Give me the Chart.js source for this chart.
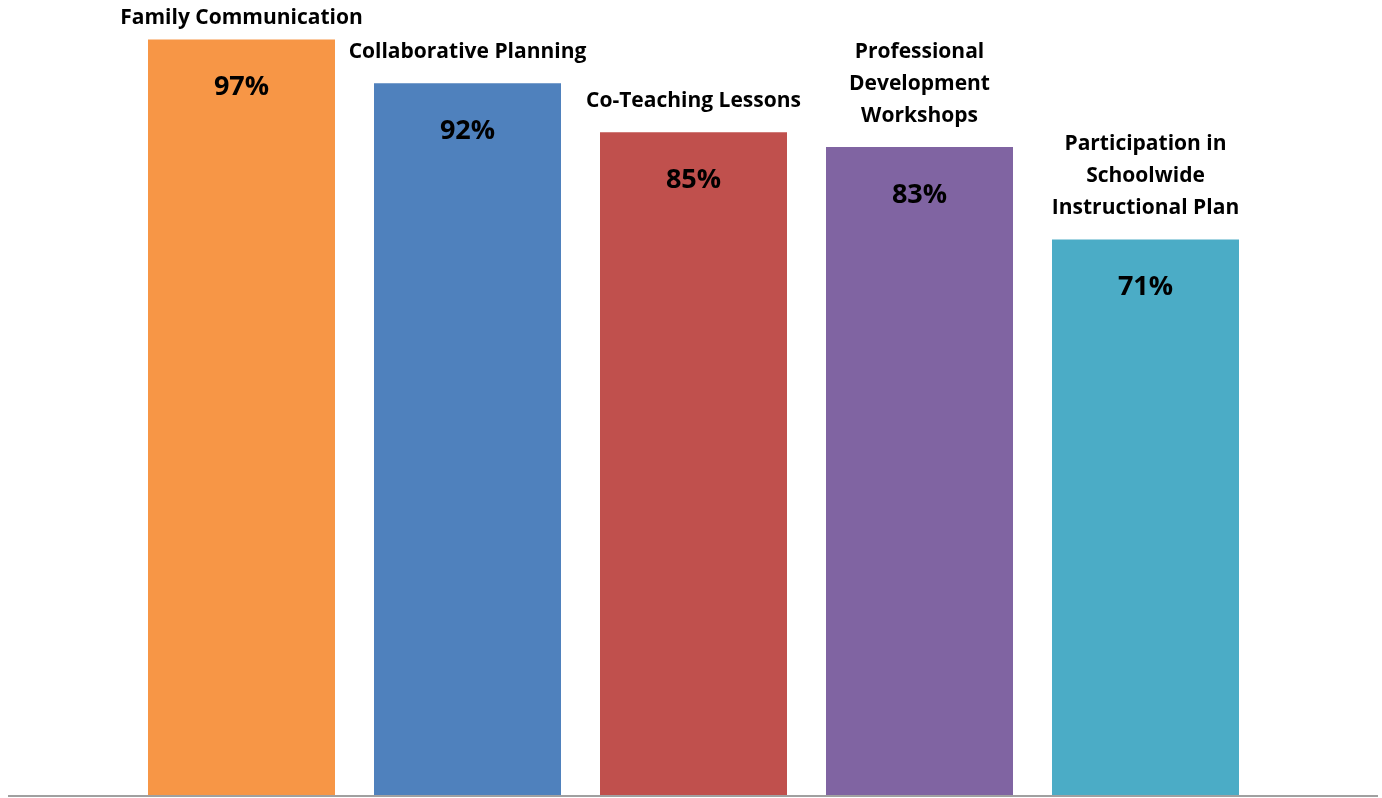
<!DOCTYPE html>
<html>
<head>
<meta charset="utf-8">
<script src="https://cdn.jsdelivr.net/npm/chart.js@4/dist/chart.umd.min.js"></script>
<style>
  html, body { margin: 0; padding: 0; background: #ffffff; overflow: hidden; }
  #wrap { width: 1382px; height: 798px; }
</style>
</head>
<body>
<div id="wrap"><canvas id="c" width="1382" height="798"></canvas></div>
<script>
// ---- data ----
const categories = [
  ["Family Communication"],
  ["Collaborative Planning"],
  ["Co-Teaching Lessons"],
  ["Professional", "Development", "Workshops"],
  ["Participation in", "Schoolwide", "Instructional Plan"]
];
const percentValues = [97.1, 91.5, 85.2, 83.3, 71.4];
const barColors = ["#F79646", "#4F81BD", "#C0504D", "#8064A2", "#4BACC6"];

const labelPlugin = {
  id: 'barLabels',
  afterDraw(chart) {
    const ctx = chart.ctx;
    const meta = chart.getDatasetMeta(0);
    const yScale = chart.scales.y;
    // baseline (horizontal axis line)
    const y0 = yScale.getPixelForValue(0);
    ctx.save();
    ctx.strokeStyle = '#A0A0A0';
    ctx.lineWidth = 2;
    ctx.beginPath();
    ctx.moveTo(8, y0 + 1);
    ctx.lineTo(chart.width - 4, y0 + 1);
    ctx.stroke();
    ctx.restore();

    ctx.save();
    ctx.fillStyle = '#000000';
    ctx.textAlign = 'center';
    ctx.textBaseline = 'middle';
    meta.data.forEach((bar, i) => {
      const x = bar.x;
      const top = bar.y;
      // value label inside bar
      ctx.font = 'bold 27px "Open Sans", Lato, sans-serif';
      ctx.fillText(Math.round(percentValues[i]) + '%', x, top + 48);
      // category label above bar
      ctx.font = 'bold 21px "Open Sans", Lato, sans-serif';
      const lines = categories[i];
      const lh = 32;
      const n = lines.length;
      const lastY = top - 31;
      const firstY = Math.max(lastY - (n - 1) * lh, 18);
      lines.forEach((ln, j) => {
        ctx.fillText(ln, x, firstY + j * lh);
      });
    });
    ctx.restore();
  }
};

new Chart(document.getElementById('c'), {
  type: 'bar',
  data: {
    labels: categories,
    datasets: [{
      data: percentValues,
      backgroundColor: barColors,
      borderWidth: 0,
      categoryPercentage: 1.0,
      barPercentage: 187 / 226
    }]
  },
  options: {
    responsive: false,
    animation: false,
    devicePixelRatio: 1,
    layout: { padding: { top: 17, bottom: 3, left: 128.5, right: 123.5 } },
    plugins: {
      legend: { display: false },
      tooltip: { enabled: false },
      title: { display: false }
    },
    scales: {
      x: { display: false },
      y: { display: false, min: 0, max: 100 }
    }
  },
  plugins: [labelPlugin]
});
</script>
</body>
</html>
